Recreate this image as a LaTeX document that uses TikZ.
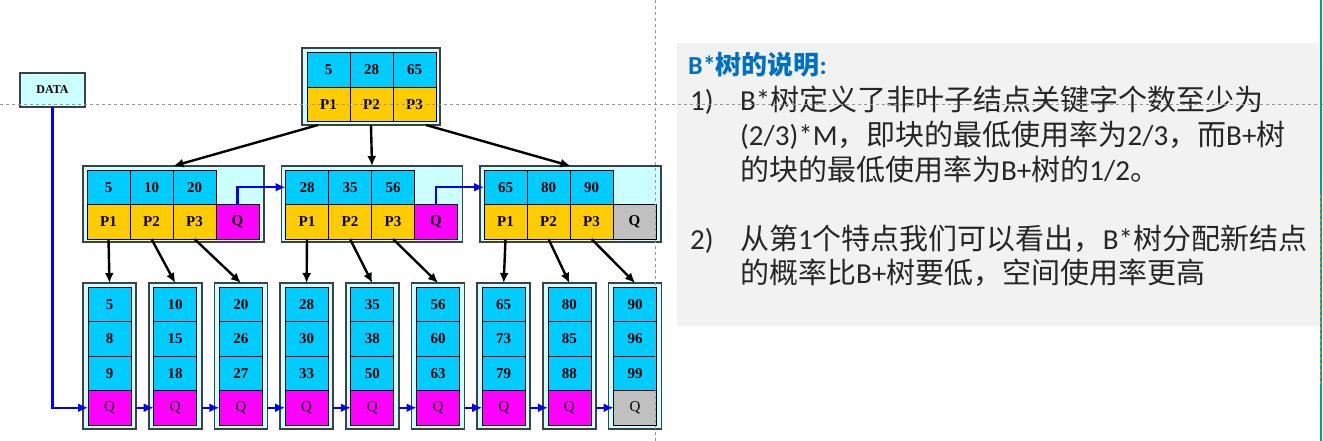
\documentclass[tikz,border=0pt]{standalone}
\usepackage{fontspec}
\setmainfont{Liberation Serif}
\newfontfamily\cjk{Noto Sans CJK SC}
\newfontfamily\lat{Carlito}
\usepackage{tikz}
\usetikzlibrary{shapes,arrows,arrows.meta,calc}

\definecolor{keyblue}{HTML}{00CCFF}
\definecolor{ptrgold}{HTML}{FFCC00}
\definecolor{qpink}{HTML}{FF00FF}
\definecolor{nullgray}{HTML}{C0C0C0}
\definecolor{boxcyan}{HTML}{CCFFFF}
\definecolor{panelgray}{HTML}{F2F2F2}
\definecolor{titleblue}{HTML}{0070C0}
\definecolor{edgeteal}{HTML}{00A08A}

\tikzset{
  cell/.style={shape=rectangle,draw=black,line width=0.8pt,inner sep=0pt,outer sep=0pt,
    minimum width=43pt,minimum height=34.5pt,font=\fontsize{15}{15}\selectfont\bfseries},
  keycell/.style={cell,fill=keyblue},
  ptrcell/.style={cell,fill=ptrgold},
  frame/.style={shape=rectangle,draw=black!75,line width=1.6pt,fill=boxcyan,
    inner sep=0pt,outer sep=0pt},
  down/.style={-{Latex[length=10pt,width=9pt]},line width=2.4pt},
  link/.style={-{Latex[length=10pt,width=9pt]},line width=2.4pt,blue},
  body/.style={anchor=base west,inner sep=0pt,text=black!85,
    font=\fontsize{29}{35}\selectfont\lat}
}

\begin{document}
\begin{tikzpicture}[x=1pt,y=-1pt]
  \useasboundingbox (0,0) rectangle (1323,441);
  \fill[white] (0,0) rectangle (1323,441);

  % root
  \node[frame,minimum width=138pt,minimum height=77pt] (root) at (371,86.5) {};
  \foreach \k/\v in {1/5,2/28,3/65} {
    \node[keycell] (rk\k) at (285.5+43*\k,69.75) {\v};
    \node[ptrcell] (rp\k) at (285.5+43*\k,104.25) {P\k};
  }

  % middle level
  \foreach \k/\a/\b/\c/\qf in {1/5/10/20/qpink,2/28/35/56/qpink,3/65/80/90/nullgray} {
    \pgfmathsetmacro\X{83+198.5*(\k-1)}
    \node[frame,minimum width=181pt,minimum height=76pt] (m\k) at (\X+90.5,204) {};
    \foreach \i/\v in {1/\a,2/\b,3/\c} {
      \node[keycell] (mk\k\i) at (\X+43*\i-17.5,187.25) {\v};
      \node[ptrcell] (mp\k\i) at (\X+43*\i-17.5,221.75) {P\i};
    }
    \node[cell,fill=\qf] (mq\k) at (\X+154.5,221.75) {Q};
  }

  % leaves
  \foreach \j/\a/\b/\c/\qf in {1/5/8/9/qpink,2/10/15/18/qpink,3/20/26/27/qpink,
      4/28/30/33/qpink,5/35/38/50/qpink,6/56/60/63/qpink,
      7/65/73/79/qpink,8/80/85/88/qpink,9/90/96/99/nullgray} {
    \pgfmathsetmacro\L{83+65.7*(\j-1)}
    \node[frame,minimum width=53pt,minimum height=146pt] (leaf\j) at (\L+26.5,356) {};
    \node[keycell] (lk\j a) at (\L+26.5,304.25) {\a};
    \node[keycell] (lk\j b) at (\L+26.5,338.75) {\b};
    \node[keycell] (lk\j c) at (\L+26.5,373.25) {\c};
    \node[cell,fill=\qf,font=\fontsize{15}{15}\selectfont] (q\j) at (\L+26.5,407.75) {Q};
    \draw[line width=1.8pt] (lk\j a.south west) -- (lk\j a.south east);
  }

  % data entry
  \node[frame,minimum width=65pt,minimum height=34pt,
    font=\fontsize{12}{12}\selectfont\bfseries] (data) at (52.5,90) {DATA};

  % pointers
  \draw[down] (root.216) -- (m1.north);
  \draw[down] (root.south) -- (m2.north);
  \draw[down] (root.325) -- (m3.north);
  \foreach \k in {1,2,3} {
    \foreach \i in {1,2,3} {
      \pgfmathtruncatemacro\j{3*(\k-1)+\i}
      \draw[down] (mp\k\i.south) -- (leaf\j.north);
    }
  }

  % sibling links
  \draw[link] (mq1.north) |- (mk21.west);
  \draw[link] (mq2.north) |- (mk31.west);
  \draw[link] (data.south) |- (q1.west);
  \foreach \j [evaluate=\j as \n using int(\j+1)] in {1,...,8}
    \draw[link] (leaf\j.east |- q\j.center) -- (q\n.west);

  % notes
  \fill[panelgray] (677,43) rectangle (1323,326);
  \node[body,font=\fontsize{26}{26}\selectfont\lat\bfseries,text=titleblue]
    (title) at (688,75) {B*{\cjk 树的说明}:};
  \node[body] (n1) at (690,111) {1)};
  \node[body] (t11) at (740,111) {B*{\cjk 树定义了非叶子结点关键字个数至少为}};
  \node[body] (t12) at (740,146) {(2/3)*M{\cjk ，即块的最低使用率为}2/3{\cjk ，而}B+{\cjk 树}};
  \node[body] (t13) at (740,180) {{\cjk 的块的最低使用率为}B+{\cjk 树的}1/2{\cjk 。}};
  \node[body] (n2) at (690,249) {2)};
  \node[body] (t21) at (740,249) {{\cjk 从第}1{\cjk 个特点我们可以看出，}B*{\cjk 树分配新结点}};
  \node[body] (t22) at (740,283) {{\cjk 的概率比}B+{\cjk 树要低，空间使用率更高}};

  % guides
  \draw[black!40,dashed,line width=0.8pt] (0,104) -- (1323,104);
  \draw[black!40,dashed,line width=0.8pt] (655,0) -- (655,441);
  \draw[edgeteal,line width=2pt] (1320.5,0) -- (1320.5,441);
  \draw[orange,dashed,line width=1pt] (1320.5,195) -- (1320.5,385);
\end{tikzpicture}
\end{document}
